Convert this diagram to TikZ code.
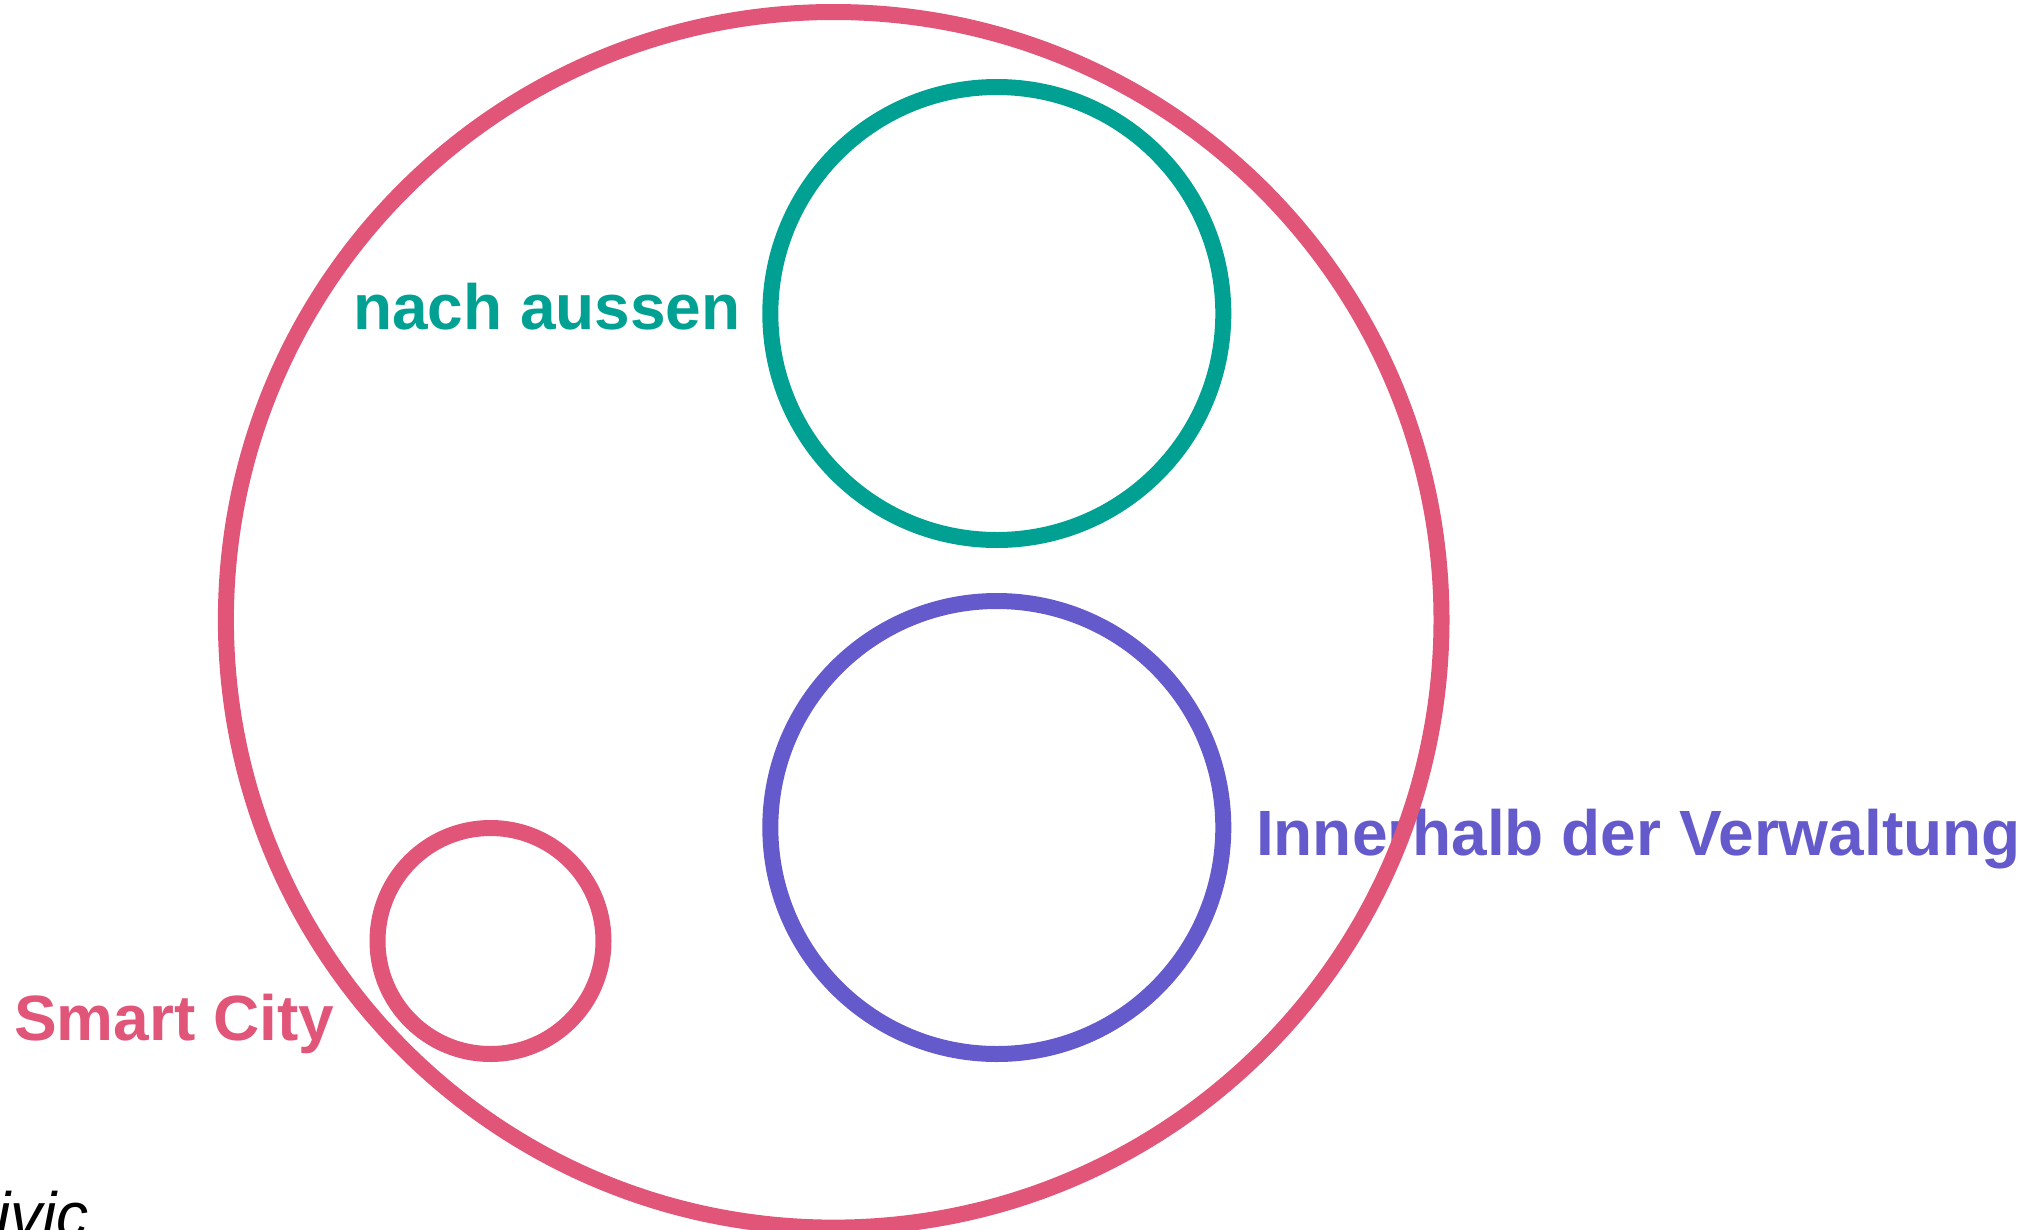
\documentclass[tikz,border=0pt]{standalone}
\usepackage{fontspec}
\setmainfont{Liberation Sans}
\definecolor{scpink}{HTML}{E15579}
\definecolor{scteal}{HTML}{00A193}
\definecolor{scpurple}{HTML}{655ACB}
\tikzset{
  ring/.style={circle, draw=#1, line width=16pt, inner sep=0pt, outer sep=0pt},
  lbl/.style={anchor=base west, inner sep=0pt, outer sep=0pt, text=#1,
    font=\fontsize{64}{77}\selectfont\bfseries}
}
\begin{document}
\begin{tikzpicture}[x=1pt,y=-1pt]
\useasboundingbox (0,0) rectangle (2039,1229);
% labels
\node[lbl=scteal] (tNach) at (353,329) {nach aussen};
\node[lbl=scpurple] (tInner) at (1256,855) {Innerhalb der Verwaltung};
\node[lbl=scpink] (tSmart) at (14,1040) {Smart City};
\node[anchor=base west, inner sep=0pt, text=black,
  font=\fontsize{64}{77}\selectfont\itshape] (tCivic) at (-4,1237) {ivic};
% circles
\node[ring=scteal, minimum size=453pt] (ext) at (996.8,313.5) {};
\node[ring=scpurple, minimum size=453pt] (inner) at (996.8,827.5) {};
\node[ring=scpink, minimum size=226pt] (smart) at (490.5,941) {};
\node[ring=scpink, minimum size=1215.6pt] (big) at (833.7,619.8) {};
\end{tikzpicture}
\end{document}
